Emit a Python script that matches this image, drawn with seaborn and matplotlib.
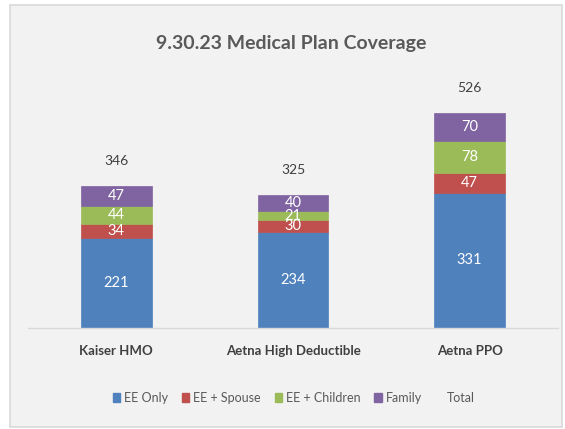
import matplotlib
matplotlib.use("Agg")
import matplotlib.pyplot as plt
from matplotlib.patches import Patch, Rectangle
import seaborn as sns
import numpy as np

plans = ["Kaiser HMO", "Aetna High Deductible", "Aetna PPO"]
series_names = ["EE Only", "EE + Spouse", "EE + Children", "Family"]
ee_only = [221, 234, 331]
ee_spouse = [34, 30, 47]
ee_children = [44, 21, 78]
family = [47, 40, 70]
totals = [346, 325, 526]

colors = ["#4f81bd", "#c0504d", "#9bbb59", "#8064a2"]

sns.set_theme(style="white")
plt.rcParams['font.family'] = ['Lato', 'DejaVu Sans']

fig = plt.figure(figsize=(5.65, 4.29), dpi=100, facecolor="white")
fig.patches.append(Rectangle((10/565, 2/429), 552/565, 422/429, transform=fig.transFigure,
                             facecolor="#f2f2f2", edgecolor="#d9d9d9", lw=1.2, zorder=-10))
ax = fig.add_axes([28/565, 101/429, 530/565, 253.6/429])
ax.set_facecolor("none")

bottom = np.zeros(len(plans))
for name, vals, c in zip(series_names, [ee_only, ee_spouse, ee_children, family], colors):
    sns.barplot(x=plans, y=vals, bottom=bottom, color=c, width=0.4, ax=ax,
                saturation=1, edgecolor=c, linewidth=0.5, label=name)
    cont = ax.containers[-1]
    ax.bar_label(cont, labels=[str(v) for v in vals], label_type="center",
                 color="white", fontsize=10.5)
    bottom = bottom + np.array(vals)

for i, t in enumerate(totals):
    ax.annotate(str(t), xy=(i, t), xytext=(0, 18), textcoords="offset points",
                ha="center", va="center", fontsize=10, color="#404040")

ax.set_xlim(-0.5, 2.5)
ax.set_ylim(0, 620)
ax.set_yticks([])
for s in ["top", "left", "right"]:
    ax.spines[s].set_visible(False)
ax.spines["bottom"].set_color("#d9d9d9")
ax.spines["bottom"].set_linewidth(1)
ax.tick_params(axis="x", length=0, pad=12)
for lbl in ax.get_xticklabels():
    lbl.set_fontweight("bold")
    lbl.set_fontsize(9.5)
    lbl.set_color("#404040")
ax.set_xlabel("")
ax.set_ylabel("")

if ax.get_legend():
    ax.get_legend().remove()

fig.text(0.515, 1 - 43/429, "9.30.23 Medical Plan Coverage", ha="center", va="center",
         fontsize=14, fontweight="bold", color="#595959")

handles = [Patch(facecolor=c, edgecolor=c) for c in colors] + [Patch(facecolor="none", edgecolor="none")]
labels = series_names + ["Total"]
fig.legend(handles, labels, loc="center", bbox_to_anchor=(0.52, 1 - 398/429), ncol=5,
           frameon=False, handlelength=0.6, handleheight=0.8, handletextpad=0.3,
           columnspacing=1.1, prop={"size": 9}, labelcolor="#595959")

fig.savefig("out.png", dpi=100, facecolor="white")
